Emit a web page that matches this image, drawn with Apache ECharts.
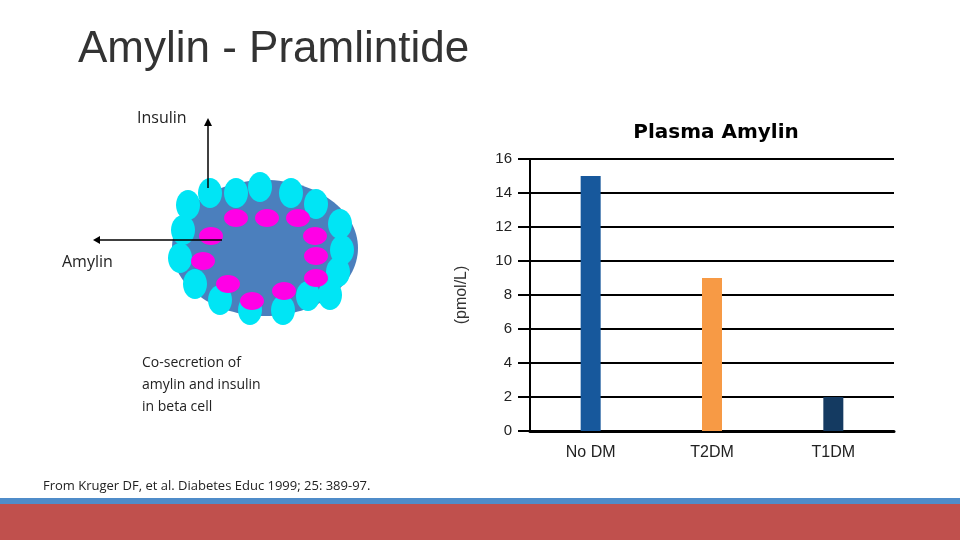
<!DOCTYPE html><html><head><meta charset="utf-8"><script src="https://cdn.jsdelivr.net/npm/echarts@6/dist/echarts.min.js"></script></head><body style="margin:0"><div id="c" style="width:960px;height:540px"></div><script>
const categories=['No DM','T2DM','T1DM'];
const values=[15,9,2];
const colors=['#17589c','#f79a45','#143a61'];
const cyan=[[188,205],[210,193],[236,193],[260,187],[291,193],[316,204],[340,224],[342,250],[338,272],[330,295],[308,296],[283,310],[250,310],[220,300],[195,284],[180,258],[183,230]];
const mag=[[236,218],[267,218],[298,218],[315,236],[316,256],[316,278],[284,291],[252,301],[228,284],[203,261],[211,236]];
const g=[{type:'ellipse',shape:{cx:265,cy:248,rx:93,ry:68},style:{fill:'#4b7fbd'}}];
cyan.forEach(p=>g.push({type:'ellipse',shape:{cx:p[0],cy:p[1],rx:12,ry:15},style:{fill:'#00e5f5'}}));
mag.forEach(p=>g.push({type:'ellipse',shape:{cx:p[0],cy:p[1],rx:12,ry:9},style:{fill:'#ff00e6'}}));
g.push(
{type:'line',shape:{x1:208,y1:188,x2:208,y2:122},style:{stroke:'#000',lineWidth:1.5}},
{type:'polygon',shape:{points:[[204,126],[212,126],[208,118]]},style:{fill:'#000'}},
{type:'line',shape:{x1:222,y1:240,x2:98,y2:240},style:{stroke:'#000',lineWidth:1.5}},
{type:'polygon',shape:{points:[[100,236],[100,244],[93,240]]},style:{fill:'#000'}},
{type:'text',left:137,top:110,style:{text:'Insulin',font:'16px "Open Sans"',fill:'#222'}},
{type:'text',left:62,top:254,style:{text:'Amylin',font:'16px "Open Sans"',fill:'#222'}},
{type:'text',left:142,top:352,style:{text:'Co-secretion of\namylin and insulin\nin beta cell',font:'14px "Open Sans"',lineHeight:22,fill:'#222'}},
{type:'text',left:43,top:480,style:{text:'From Kruger DF, et al. Diabetes Educ 1999; 25: 389-97.',font:'13px "Open Sans"',fill:'#222'}},
{type:'text',left:78,top:28,style:{text:'Amylin - Pramlintide',font:'44px "Liberation Sans"',fill:'#333'}},
{type:'rect',shape:{x:0,y:498,width:960,height:6},style:{fill:'#4f8cc9'}},
{type:'rect',shape:{x:0,y:504,width:960,height:36},style:{fill:'#c0504d'}});
echarts.init(document.getElementById('c')).setOption({
title:{text:'Plasma Amylin',left:711,top:118,textAlign:'center',textStyle:{fontSize:20,fontWeight:'bold',color:'#000',fontFamily:'Verdana, DejaVu Sans'}},
grid:{left:530,right:66,top:159,bottom:109},
graphic:g,
xAxis:{type:'category',data:categories,axisLine:{lineStyle:{color:'#000',width:3}},axisTick:{show:false},axisLabel:{color:'#222',fontSize:16,margin:14}},
yAxis:{type:'value',min:0,max:16,interval:2,name:'(pmol/L)',nameLocation:'middle',nameGap:60,nameTextStyle:{fontSize:16,color:'#333'},
axisLine:{show:true,lineStyle:{color:'#000',width:2}},axisTick:{show:true,length:12,lineStyle:{color:'#000',width:2}},
axisLabel:{color:'#222',fontSize:15,margin:18},splitLine:{lineStyle:{color:'#000',width:2}}},
series:[{type:'bar',barWidth:20,data:values.map((v,i)=>({value:v,itemStyle:{color:colors[i]}}))}]
});
</script></body></html>
